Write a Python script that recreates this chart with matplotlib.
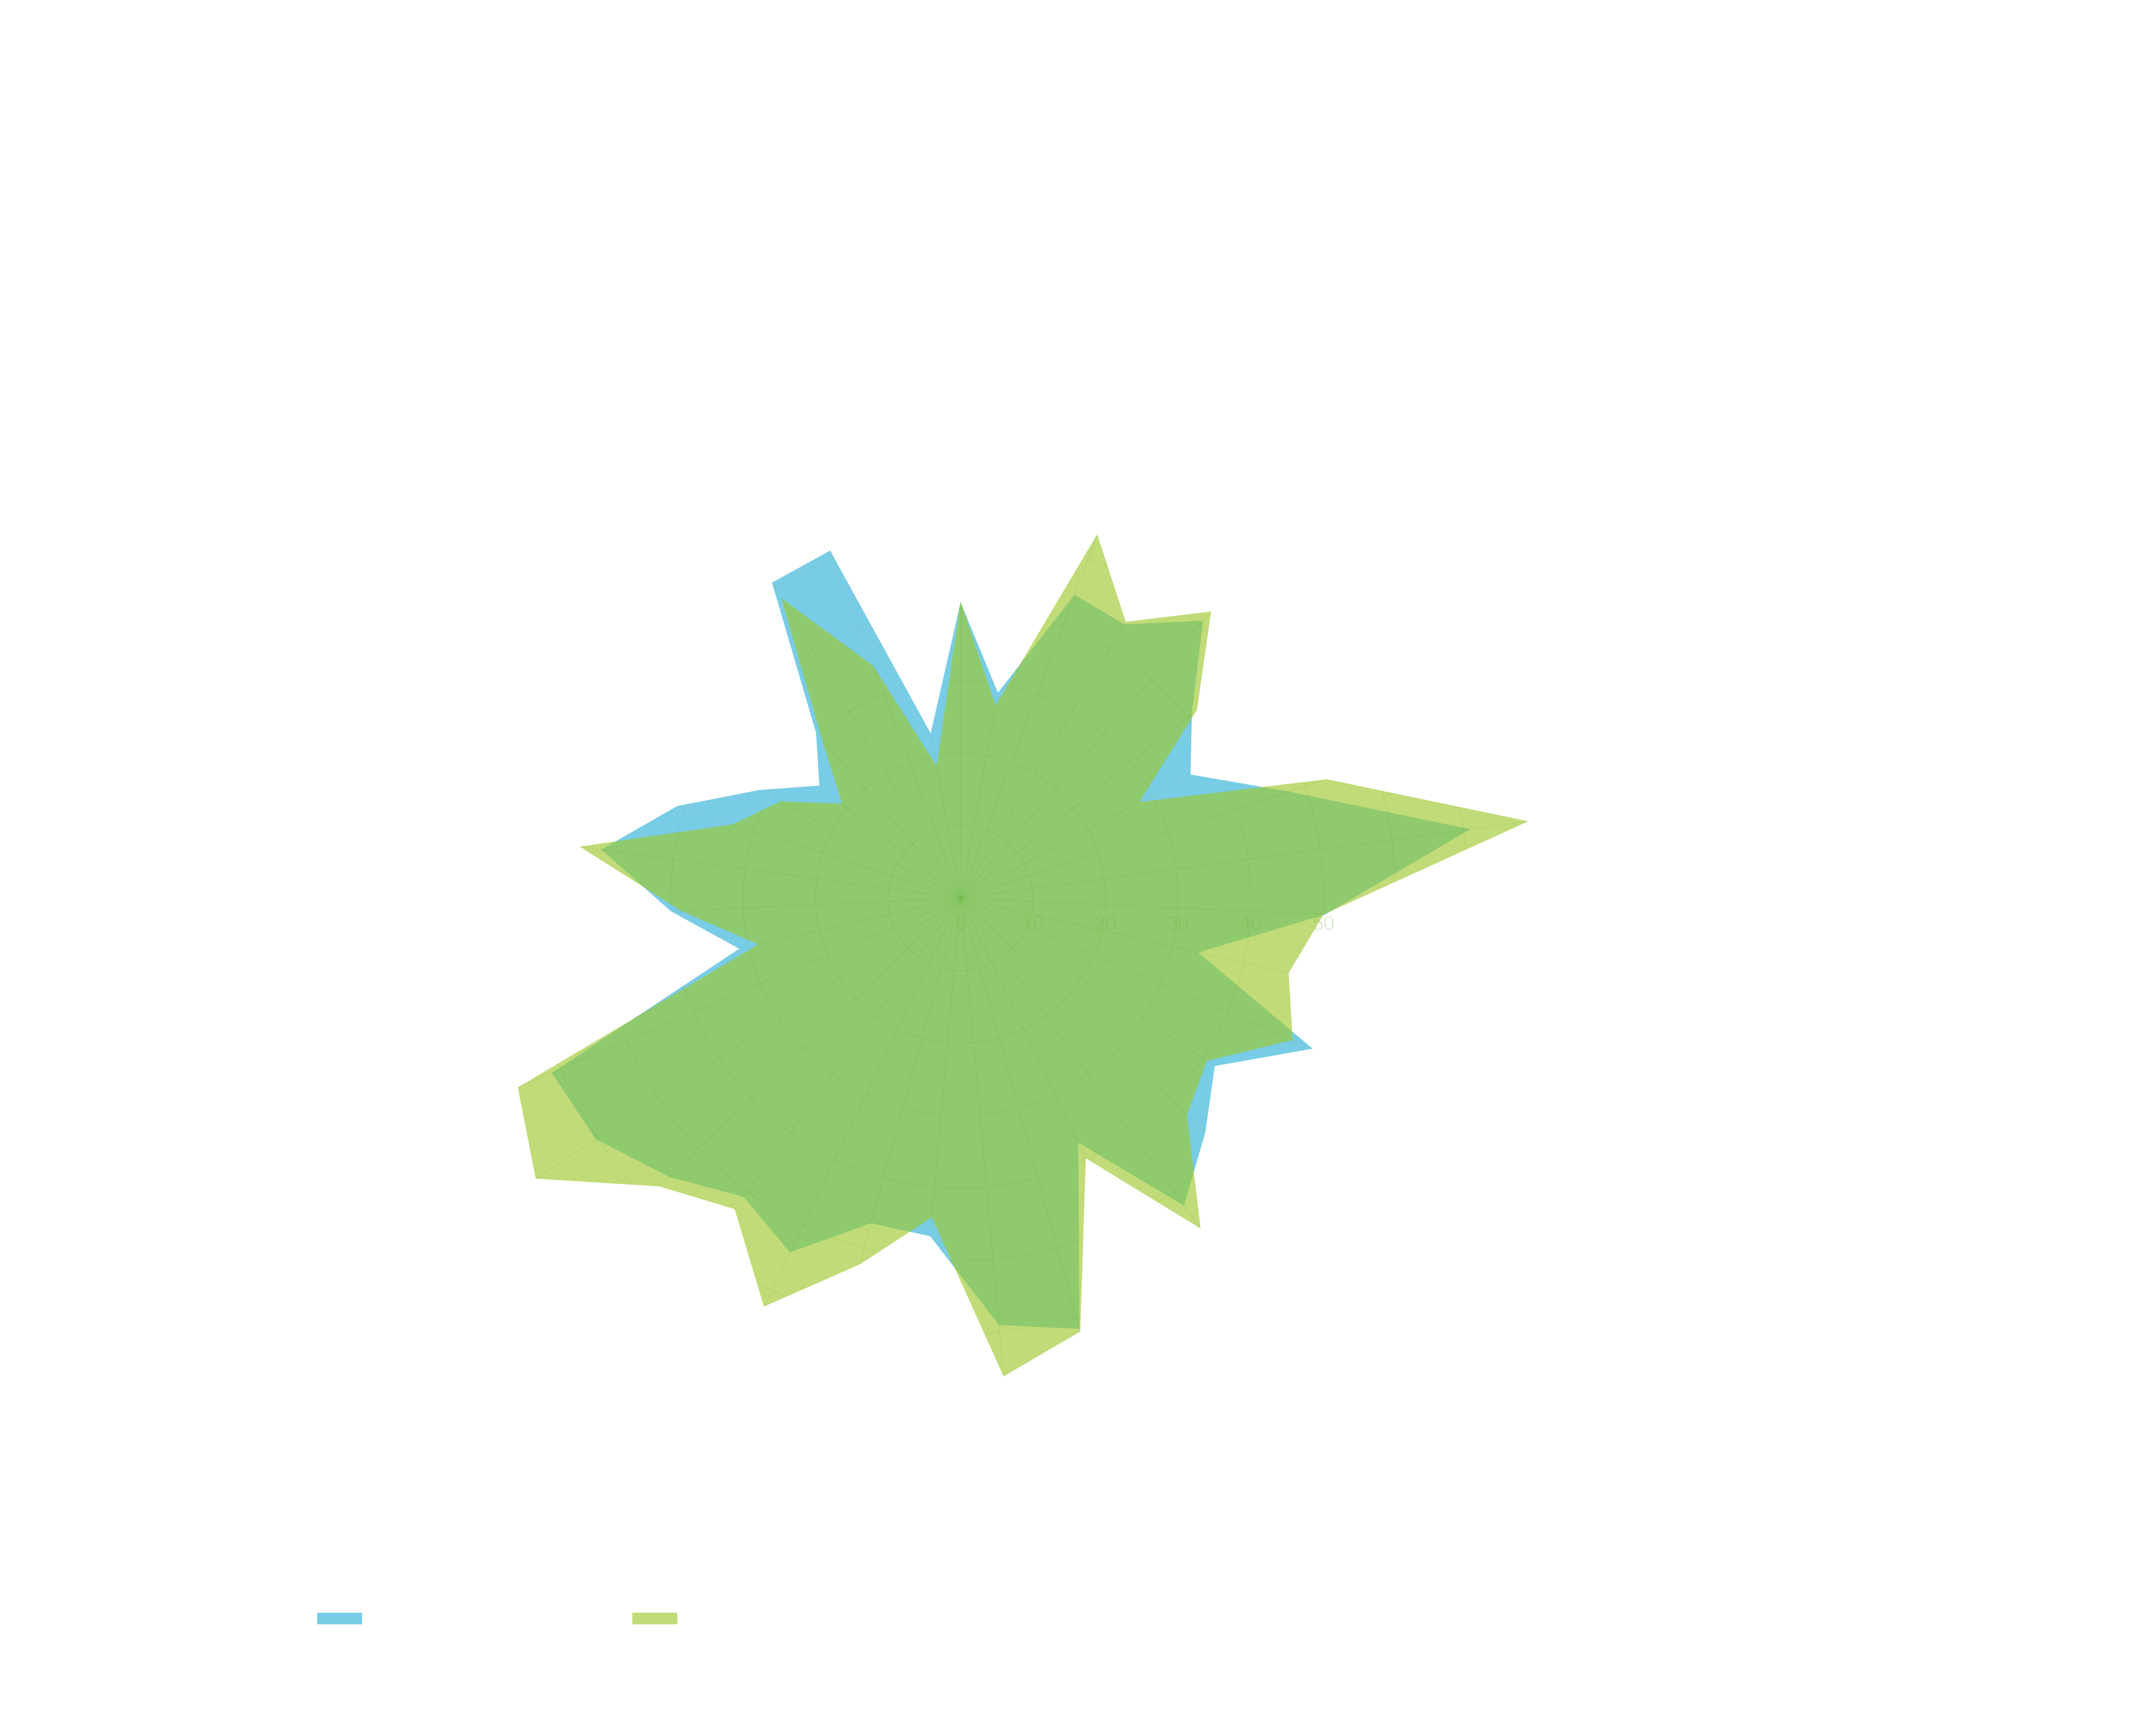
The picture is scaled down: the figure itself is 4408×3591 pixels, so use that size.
import numpy as np
import matplotlib
matplotlib.use("Agg")
import matplotlib.pyplot as plt
from matplotlib.patches import Patch
from matplotlib.transforms import ScaledTranslation

# ---------------- data ----------------
categories = [f"C{i + 1}" for i in range(35)]
series_blue = [40.8, 28.8, 44.7, 44.0, 50.8, 40.8, 36.0, 47.6, 70.9, 50.3,
               33.6, 52.8, 42.0, 46.7, 52.4, 37.4, 61.6, 59.1, 46.8, 46.5,
               54.2, 50.9, 55.6, 60.3, 61.3, 31.3, 40.0, 50.0, 41.1, 31.5,
               24.9, 30.3, 50.7, 51.2, 23.1]
series_green = [40.9, 27.0, 53.6, 44.4, 52.5, 41.7, 28.0, 53.1, 79.0, 50.1,
                46.4, 49.8, 40.7, 43.2, 56.3, 39.8, 62.0, 66.2, 44.2, 52.4,
                62.5, 53.0, 57.5, 70.2, 66.4, 28.6, 38.6, 53.0, 33.0, 28.2,
                20.9, 29.0, 48.2, 34.2, 18.5]
radial_ticks = [0, 10, 20, 30, 40, 50]
grid_rings = [10, 20, 30, 40, 50, 60, 70, 80]
legend_labels = ["Series 1", "Series 2"]

# ---------------- style ----------------
W, H, DPI = 4408, 3591, 300
BLUE, BLUE_A = "#56c0e0", 0.8
GREEN, GREEN_A = "#9ec92f", 0.65
GRID_C = "#6cb63f"

plt.rcParams["font.family"] = ["Liberation Sans", "DejaVu Sans"]

fig = plt.figure(figsize=(W / DPI, H / DPI), dpi=DPI)
fig.patch.set_facecolor("white")

cx, cy, rad = 1987, 1858, 1200  # centre and radius (pixels) of the polar area
ax = fig.add_axes([(cx - rad) / W, (H - cy - rad) / H, 2 * rad / W, 2 * rad / H],
                  projection="polar")
ax.set_theta_offset(np.pi / 2)
ax.set_theta_direction(-1)
ax.set_ylim(0, 80)
ax.set_xticks([])
ax.set_yticks([])
ax.grid(False)
ax.spines["polar"].set_visible(False)
ax.patch.set_visible(False)

n = len(categories)
theta = np.linspace(0, 2 * np.pi, n, endpoint=False)

poly_blue = ax.fill(theta, series_blue, color=BLUE, alpha=BLUE_A, lw=0, zorder=2)[0]
poly_green = ax.fill(theta, series_green, color=GREEN, alpha=GREEN_A, lw=0, zorder=3)[0]
for p in (poly_blue, poly_green):
    p.set_clip_on(False)

# faint grid, visible only inside the filled areas
ring_t = np.linspace(0, 2 * np.pi, 721)
for poly in (poly_blue, poly_green):
    for rv in grid_rings:
        ln, = ax.plot(ring_t, np.full_like(ring_t, rv), color=GRID_C, lw=0.6,
                      alpha=0.09, zorder=4)
        ln.set_clip_path(poly)
    for t in theta:
        ln, = ax.plot([t, t], [0, grid_rings[-1]], color=GRID_C, lw=0.6,
                      alpha=0.09, zorder=4)
        ln.set_clip_path(poly)

# radial tick labels along the horizontal axis, just below it
off = ax.transData + ScaledTranslation(0, -66 / DPI, fig.dpi_scale_trans)
for rv in radial_ticks:
    ax.text(np.pi / 2, rv, str(rv), transform=off, ha="center", va="baseline",
            fontsize=10, color="#6cb040", alpha=0.22, zorder=5)

# legend swatches
fs_px = 10 / 72 * DPI
for lbl, col, a, x0 in ((legend_labels[0], BLUE, BLUE_A, 656),
                        (legend_labels[1], GREEN, GREEN_A, 1308)):
    h = Patch(facecolor=col, alpha=a, edgecolor="none")
    fig.legend([h], [lbl], loc="center left",
               bbox_to_anchor=(x0 / W, 1 - 3352 / H),
               frameon=False, borderpad=0, borderaxespad=0,
               handlelength=93 / fs_px, handleheight=22 / fs_px,
               handletextpad=0.8, fontsize=10, labelcolor="white")

fig.savefig("out.png", dpi=DPI, facecolor="white")
